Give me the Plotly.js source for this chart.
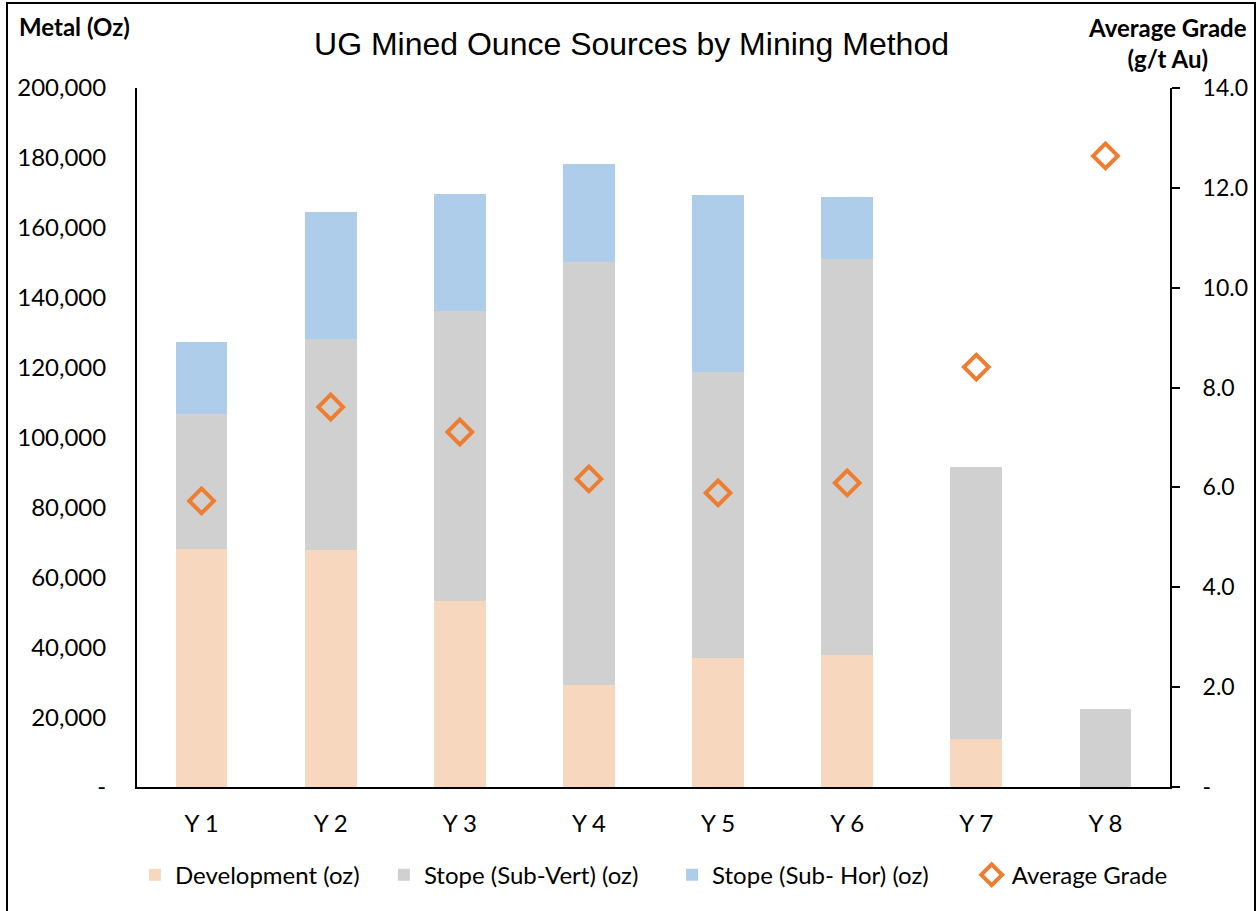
<!DOCTYPE html>
<html><head><meta charset="utf-8">
<script src="https://cdn.plot.ly/plotly-3.0.1.min.js"></script>
<style>
html,body{margin:0;padding:0;background:#fff;}
#frame{position:absolute;left:6px;top:2px;width:1250px;height:912px;border:2px solid #000;box-sizing:border-box;}
#chart{position:absolute;left:0;top:0;width:1258px;height:911px;}
</style></head>
<body>
<div id="chart"></div>
<div id="frame"></div>
<script>
const years = ['Y 1','Y 2','Y 3','Y 4','Y 5','Y 6','Y 7','Y 8'];
const development = [68000, 67800, 53200, 29200, 36900, 37800, 13700, 0];
const stopeSubVert = [38700, 60500, 83000, 121000, 81800, 113300, 77900, 22300];
const stopeSubHor = [20600, 36300, 33500, 28100, 50700, 17700, 0, 0];
const averageGrade = [5.73, 7.61, 7.11, 6.17, 5.89, 6.09, 8.41, 12.64];
const leftTicks = [0,20000,40000,60000,80000,100000,120000,140000,160000,180000,200000];
const leftTickText = ['-','20,000','40,000','60,000','80,000','100,000','120,000','140,000','160,000','180,000','200,000'];
const rightTicks = [0,2,4,6,8,10,12,14];
const rightTickText = ['-','2.0','4.0','6.0','8.0','10.0','12.0','14.0'];

const F = 'Lato, "Open Sans", sans-serif';
const FS = 24;
const traces = [
  {type:'bar', name:'Development (oz)', x:years, y:development, marker:{color:'#F8D7BF'}, legend:'legend'},
  {type:'bar', name:'Stope (Sub-Vert) (oz)', x:years, y:stopeSubVert, marker:{color:'#D0D0D0'}, legend:'legend2'},
  {type:'bar', name:'Stope (Sub- Hor) (oz)', x:years, y:stopeSubHor, marker:{color:'#ADCDEA'}, legend:'legend3'},
  {type:'scatter', mode:'markers', name:'Average Grade', x:years, y:averageGrade, yaxis:'y2', legend:'legend4',
   marker:{symbol:'diamond-open', size:19, color:'#ED7D31', line:{width:4, color:'#ED7D31'}}}
];
function leg(x){
  return {orientation:'h', x:x, xanchor:'left', y:-0.094, yanchor:'top', font:{family:F, size:FS},
          itemwidth:30, bgcolor:'rgba(0,0,0,0)'};
}
const layout = {
  width:1258, height:911,
  margin:{l:137, r:88, t:88, b:124},
  barmode:'stack', bargap:0.6,
  paper_bgcolor:'rgba(0,0,0,0)', plot_bgcolor:'#fff',
  font:{family:F, size:FS, color:'#000'},
  title:{text:'UG Mined Ounce Sources by Mining Method', font:{family:'"Liberation Sans", Arial, sans-serif', size:32, color:'#000'}, x:0.502, xanchor:'center', y:0.952, yanchor:'middle'},
  xaxis:{type:'category', showline:true, linecolor:'#000', linewidth:2, ticks:'', showgrid:false, zeroline:false,
         tickfont:{family:F, size:FS}, ticklabelstandoff:14},
  yaxis:{range:[0,200000], tickvals:leftTicks, ticktext:leftTickText, showline:true, linecolor:'#000', linewidth:2,
         ticks:'', showgrid:false, zeroline:false, tickfont:{family:F, size:FS}, ticklabelstandoff:24},
  yaxis2:{range:[0,14], tickvals:rightTicks, ticktext:rightTickText, overlaying:'y', side:'right', showline:true,
          linecolor:'#000', linewidth:2, ticks:'outside', ticklen:8, tickwidth:2, tickcolor:'#000', showgrid:false, zeroline:false,
          tickfont:{family:F, size:23}, ticklabelstandoff:18},
  legend:leg(-0.002), legend2:leg(0.239), legend3:leg(0.518), legend4:leg(0.808),
  showlegend:true,
  annotations:[
    {text:'<b>Metal (Oz)</b>', xref:'paper', yref:'paper', x:-0.116, xanchor:'left', y:1.088, yanchor:'middle', showarrow:false, font:{family:F, size:FS}},
    {text:'<b>Average Grade</b><br><b>(g/t Au)</b>', xref:'paper', yref:'paper', x:1.076, xanchor:'right', align:'center', y:1.065, yanchor:'middle', showarrow:false, font:{family:F, size:FS}}
  ]
};
Plotly.newPlot('chart', traces, layout, {displayModeBar:false, staticPlot:true});
</script>
</body></html>
